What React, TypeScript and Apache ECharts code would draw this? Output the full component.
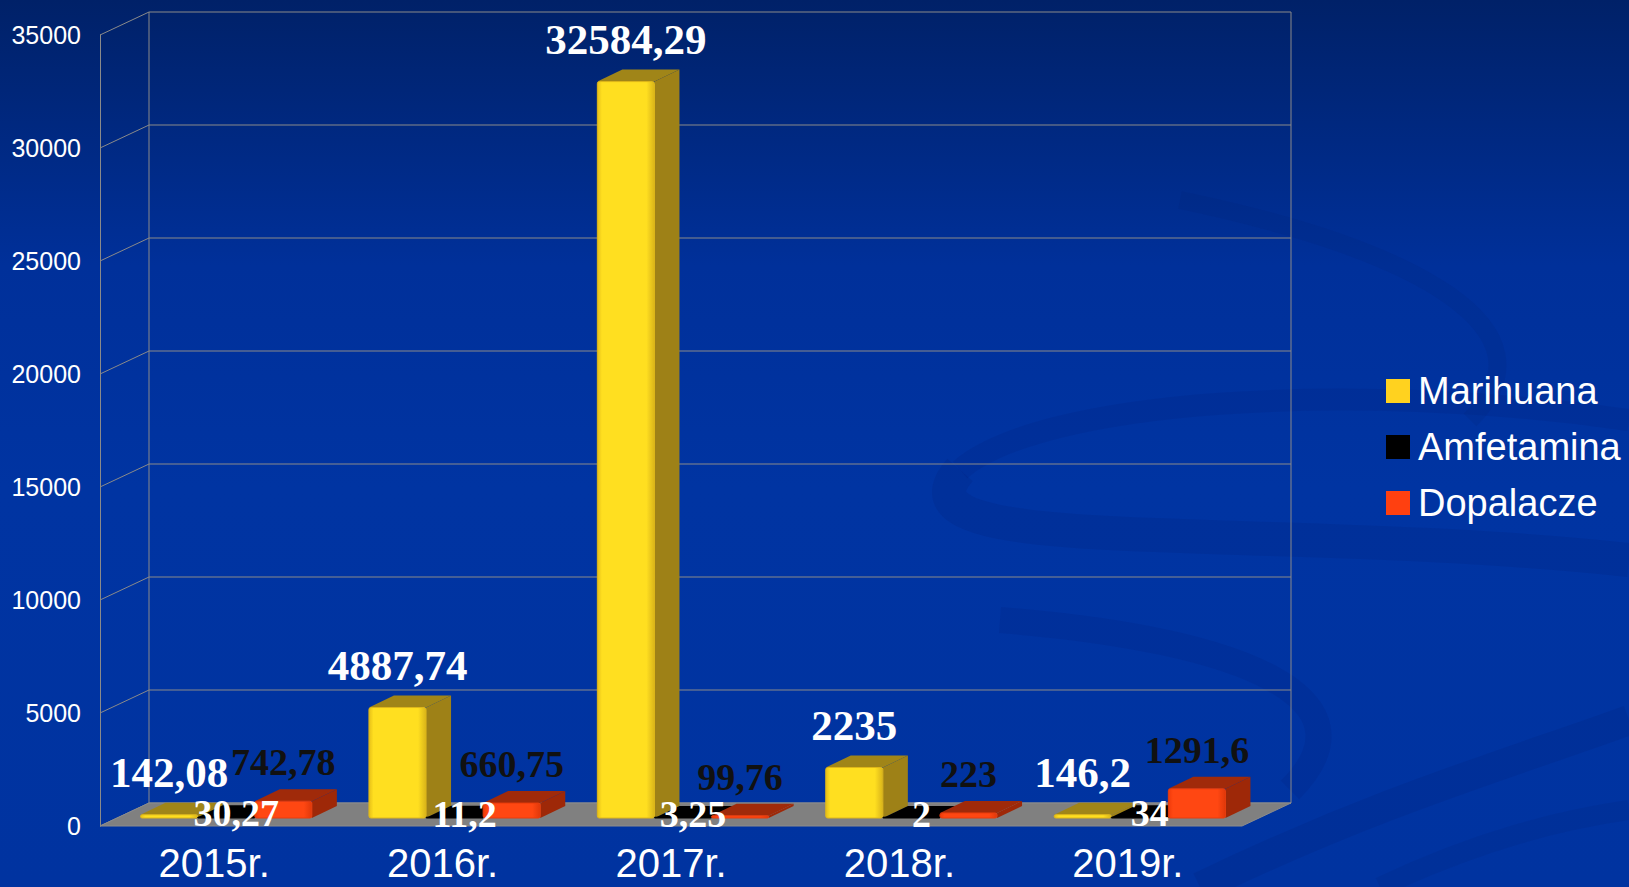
import React, { useEffect, useRef } from "react";
import * as echarts from "echarts";

const categories = ["2015r.", "2016r.", "2017r.", "2018r.", "2019r."];
const marihuana = [142.08, 4887.74, 32584.29, 2235, 146.2];
const amfetamina = [30.27, 11.2, 3.25, 2, 34];
const dopalacze = [742.78, 660.75, 99.76, 223, 1291.6];
const yTicks = [0, 5000, 10000, 15000, 20000, 25000, 30000, 35000];
const seriesNames = ["Marihuana", "Amfetamina", "Dopalacze"];
const seriesValues = [marihuana, amfetamina, dopalacze];

const Y_MAX = 35000;
const WALL_DX = 49;
const WALL_DY = -23;
const PLANE_DX = 12;
const PLANE_DY = -8;
const BAR_DX = 25;
const BAR_DY = -12;
const BAR_FRAC = 0.25;

const SANS = "'Liberation Sans', Arial, sans-serif";
const SERIF = "'Liberation Serif', 'Times New Roman', serif";

const palettes = [
  { legend: "#FFD21F", front: ["#E6BF18", "#FFDF20", "#FFDF20", "#D9B41A"], side: "#9E8117", top: "#A08518", stroke: "#E0B818" },
  { legend: "#000000", front: ["#000000", "#000000", "#000000", "#000000"], side: "#000000", top: "#000000", stroke: "#000000" },
  { legend: "#FF4010", front: ["#EE3A0A", "#FF4712", "#FF4712", "#E0380A"], side: "#9E2808", top: "#A02A0A", stroke: "#E83C0C" },
];

const labelStyles = [
  { color: "#FFFFFF", size: 43, dx: 0, mode: "above", gap: 30 },
  { color: "#FFFFFF", size: 38, dx: 10, mode: "inside", gap: 4 },
  { color: "#111111", size: 38, dx: 0, mode: "above", gap: 27 },
];

function fmt(v: number): string {
  return String(v).replace(".", ",");
}

function barGeom(s: number, api: any) {
  const i = api.value(0);
  const v = api.value(1);
  const base = api.coord([i, 0]);
  const top = api.coord([i, v]);
  const bw = api.size([1, 0])[0];
  const barW = bw * BAR_FRAC;
  const x0 = base[0] + PLANE_DX + (s - 1.5) * barW;
  const x1 = x0 + barW;
  const yb = base[1] + PLANE_DY;
  const yt = top[1] + PLANE_DY;
  return { i, v, x0, x1, yb, yt };
}

function makeBarRender(s: number) {
  const p = palettes[s];
  return (params: any, api: any) => {
    const { x0, x1, yb, yt } = barGeom(s, api);
    const h = Math.max(yb - yt, 0.8);
    return {
      type: "group",
      children: [
        {
          type: "polygon",
          shape: { points: [[x1, yb], [x1 + BAR_DX, yb + BAR_DY], [x1 + BAR_DX, yt + BAR_DY], [x1, yt]] },
          style: { fill: p.side },
        },
        {
          type: "polygon",
          shape: { points: [[x0, yt], [x0 + BAR_DX, yt + BAR_DY], [x1 + BAR_DX, yt + BAR_DY], [x1, yt]] },
          style: { fill: p.top },
        },
        {
          type: "rect",
          shape: { x: x0, y: yb - h, width: x1 - x0, height: h, r: 2 },
          style: {
            fill: {
              type: "linear", x: 0, y: 0, x2: 1, y2: 0,
              colorStops: [
                { offset: 0, color: p.front[0] },
                { offset: 0.08, color: p.front[1] },
                { offset: 0.86, color: p.front[2] },
                { offset: 1, color: p.front[3] },
              ],
            },
            stroke: p.stroke,
            lineWidth: 1,
          },
        },
      ],
    };
  };
}

function makeLabelRender(s: number) {
  const ls = labelStyles[s];
  return (params: any, api: any) => {
    const { v, x0, x1, yt } = barGeom(s, api);
    const cx = (x0 + x1) / 2 + ls.dx;
    const cy = ls.mode === "above" ? yt + BAR_DY - ls.gap : yt - ls.gap;
    return {
      type: "text",
      style: {
        text: fmt(v),
        x: cx,
        y: cy,
        fill: ls.color,
        fontSize: ls.size,
        fontWeight: "bold",
        fontFamily: SERIF,
        align: "center",
        verticalAlign: "middle",
      },
    };
  };
}

function frameRender(params: any, api: any) {
  const v = api.value(1);
  const p0 = api.coord([0, 0]);
  const bw = api.size([1, 0])[0];
  const xL = p0[0] - bw / 2;
  const xR = api.coord([categories.length - 1, 0])[0] + bw / 2;
  const yF = p0[1];
  const yTop = api.coord([0, Y_MAX])[1];
  const y = api.coord([0, v])[1];
  const lineStyle = { stroke: "#8A8A8A", lineWidth: 1 };
  const children: any[] = [];
  if (params.dataIndex === 0) {
    children.push({
      type: "line",
      shape: { x1: xL + WALL_DX, y1: yF + WALL_DY, x2: xL + WALL_DX, y2: yTop + WALL_DY },
      style: lineStyle,
    });
    children.push({
      type: "line",
      shape: { x1: xR + WALL_DX, y1: yF + WALL_DY, x2: xR + WALL_DX, y2: yTop + WALL_DY },
      style: lineStyle,
    });
  }
  children.push({
    type: "line",
    shape: { x1: xL, y1: y, x2: xL + WALL_DX, y2: y + WALL_DY },
    style: lineStyle,
  });
  children.push({
    type: "line",
    shape: { x1: xL + WALL_DX, y1: y + WALL_DY, x2: xR + WALL_DX, y2: y + WALL_DY },
    style: lineStyle,
  });
  if (params.dataIndex === 0) {
    children.push({
      type: "polygon",
      shape: { points: [[xL, yF], [xL + WALL_DX, yF + WALL_DY], [xR + WALL_DX, yF + WALL_DY], [xR, yF]] },
      style: { fill: "#808080", stroke: "#8C8C8C", lineWidth: 1 },
    });
  }
  return { type: "group", children };
}

export default function App() {
  const ref = useRef<HTMLDivElement>(null);
  useEffect(() => {
    if (!ref.current) return;
    const chart = echarts.init(ref.current, undefined, { renderer: "svg" });
    const barSeries: any[] = [];
    const labelSeries: any[] = [];
    seriesNames.forEach((name, s) => {
      const data = categories.map((c, i) => [i, seriesValues[s][i]]);
      barSeries.push({
        type: "custom",
        name,
        coordinateSystem: "cartesian2d",
        renderItem: makeBarRender(s),
        data,
        encode: { x: 0, y: 1 },
        itemStyle: { color: palettes[s].legend },
        clip: false,
        z: 2,
        silent: true,
      });
      labelSeries.push({
        type: "custom",
        name,
        coordinateSystem: "cartesian2d",
        renderItem: makeLabelRender(s),
        data,
        encode: { x: 0, y: 1 },
        itemStyle: { color: palettes[s].legend },
        clip: false,
        z: 3,
        silent: true,
      });
    });

    const swoosh = (pts: number[], w: number, color: string) => ({
      type: "bezierCurve",
      silent: true,
      shape: { x1: pts[0], y1: pts[1], cpx1: pts[2], cpy1: pts[3], cpx2: pts[4], cpy2: pts[5], x2: pts[6], y2: pts[7] },
      style: { stroke: color, lineWidth: w, fill: null },
      z: -10,
    });

    chart.setOption({
      animation: false,
      backgroundColor: {
        type: "linear", x: 0, y: 0, x2: 0, y2: 1,
        colorStops: [
          { offset: 0, color: "#002168" },
          { offset: 0.3, color: "#00309A" },
          { offset: 0.55, color: "#0034A2" },
          { offset: 1, color: "#0033A0" },
        ],
      },
      graphic: [
        swoosh([1629, 560, 1250, 520, 880, 560, 960, 470], 34, "rgba(0,30,110,0.16)"),
        swoosh([960, 470, 1040, 400, 1350, 380, 1629, 420], 22, "rgba(0,30,110,0.14)"),
        swoosh([1180, 200, 1420, 250, 1560, 330, 1470, 420], 18, "rgba(0,30,110,0.12)"),
        swoosh([1000, 620, 1250, 640, 1380, 700, 1290, 790], 26, "rgba(0,30,110,0.14)"),
        swoosh([1200, 887, 1380, 800, 1520, 760, 1629, 720], 30, "rgba(0,30,110,0.16)"),
        swoosh([1380, 887, 1480, 840, 1560, 820, 1629, 810], 20, "rgba(0,30,110,0.12)"),
      ],
      legend: {
        data: seriesNames,
        orient: "vertical",
        left: 1386,
        top: 372,
        padding: 0,
        itemWidth: 24,
        itemHeight: 24,
        itemGap: 18,
        icon: "rect",
        selectedMode: false,
        textStyle: { color: "#FFFFFF", fontSize: 38, fontFamily: SANS, lineHeight: 36, padding: [0, 0, 0, 3] },
      },
      grid: { left: 100, right: 387, top: 35, bottom: 61, containLabel: false },
      xAxis: {
        type: "category",
        data: categories,
        boundaryGap: true,
        axisLine: { show: false },
        axisTick: { show: false },
        splitLine: { show: false },
        axisLabel: { color: "#FFFFFF", fontSize: 40, lineHeight: 36, fontFamily: SANS, margin: 19, interval: 0 },
      },
      yAxis: {
        type: "value",
        min: 0,
        max: Y_MAX,
        interval: 5000,
        axisLine: { show: true, lineStyle: { color: "#8A8A8A", width: 1 } },
        axisTick: { show: false },
        splitLine: { show: false },
        axisLabel: { color: "#FFFFFF", fontSize: 25, fontFamily: SANS, margin: 19, formatter: (v: number) => String(v) },
      },
      series: [
        {
          type: "custom",
          name: "frame",
          coordinateSystem: "cartesian2d",
          renderItem: frameRender,
          data: yTicks.map((v) => [0, v]),
          encode: { x: 0, y: 1 },
          clip: false,
          z: 1,
          silent: true,
        },
        ...barSeries,
        ...labelSeries,
      ],
    });
    return () => chart.dispose();
  }, []);
  return (
    <div
      ref={ref}
      style={{ position: "fixed", left: 0, top: 0, width: 1629, height: 887 }}
    />
  );
}
